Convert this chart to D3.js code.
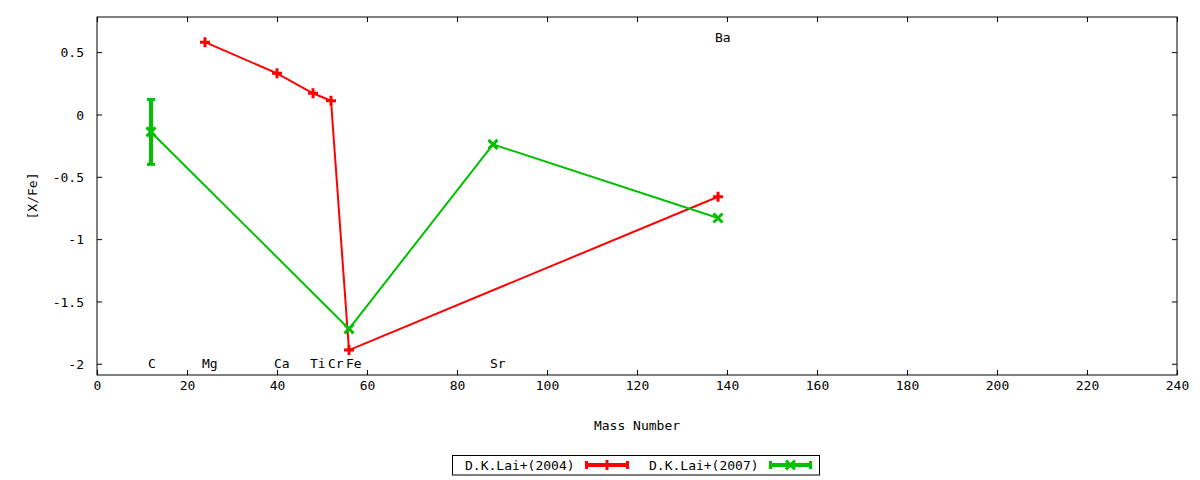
<!DOCTYPE html>
<html><head><meta charset="utf-8">
<script src="https://cdn.jsdelivr.net/npm/d3@7"></script>
<style>
body{margin:0;background:#fff;}
text{font-family:"DejaVu Sans Mono",monospace;font-size:13px;fill:#000;}
</style></head>
<body><svg id="c" width="1200" height="480"></svg>
<script>
// ---- data ----
const xTicks = [0,20,40,60,80,100,120,140,160,180,200,220,240];
const yTicks = [-2,-1.5,-1,-0.5,0,0.5];
const elementNames = ["C","Mg","Ca","Ti","Cr","Fe","Sr","Ba"];
const elementMass  = [12,24,40,48,52,56,88,138];
const elementLabelY = [-2,-2,-2,-2,-2,-2,-2,0.62];

const lai2004Mass = [24,40,48,52,56,138];
const lai2004Val  = [0.58,0.33,0.17,0.11,-1.89,-0.66];
const lai2004Err  = [0,0,0,0,0,0];

const lai2007Mass = [12,56,88,138];
const lai2007Val  = [-0.14,-1.72,-0.24,-0.83];
const lai2007Err  = [0.26,0,0,0];

const seriesNames = ["D.K.Lai+(2004)","D.K.Lai+(2007)"];
const seriesColors = ["#ff0000","#00c000"];

// ---- chart ----
const svg = d3.select("#c");
const L=97,R=1177,T=17,B=375;
const x = d3.scaleLinear().domain([0,240]).range([L,R]);
const y = d3.scaleLinear().domain([-2.09,0.782]).range([B,T]);

// axes (inward ticks, mirrored)
const gx = svg.append("g").attr("transform",`translate(0,${B})`)
  .call(d3.axisBottom(x).tickValues(xTicks).tickFormat(d3.format("d")).tickSizeInner(-5).tickSizeOuter(0).tickPadding(14));
const gxt = svg.append("g").attr("transform",`translate(0,${T})`)
  .call(d3.axisTop(x).tickValues(xTicks).tickFormat("").tickSizeInner(-5).tickSizeOuter(0));
const gy = svg.append("g").attr("transform",`translate(${L},0)`)
  .call(d3.axisLeft(y).tickValues(yTicks).tickFormat(d=>String(d)).tickSizeInner(-5).tickSizeOuter(0).tickPadding(13));
const gyr = svg.append("g").attr("transform",`translate(${R},0)`)
  .call(d3.axisRight(y).tickValues(yTicks).tickFormat("").tickSizeInner(-5).tickSizeOuter(0));
[gx,gxt,gy,gyr].forEach(g=>{
  g.select(".domain").remove();
  g.selectAll("line").attr("stroke","#000").attr("stroke-width",1);
  g.selectAll("text").attr("font-family","DejaVu Sans Mono").attr("font-size",13).attr("fill","#000");
});
gx.selectAll("text").attr("dy","0.1em");
gy.selectAll("text").attr("dy","0.35em");

svg.append("rect").attr("x",L).attr("y",T).attr("width",R-L).attr("height",B-T)
  .attr("fill","none").attr("stroke","#000").attr("stroke-width",1);

// axis titles
svg.append("text").attr("x",(L+R)/2).attr("y",430).attr("text-anchor","middle").text("Mass Number");
svg.append("text").attr("transform","translate(37,196) rotate(-90)").attr("text-anchor","middle").text("[X/Fe]");

// element labels
svg.append("g").selectAll("text").data(elementNames).join("text")
  .attr("x",(d,i)=>x(elementMass[i])-3)
  .attr("y",(d,i)=>y(elementLabelY[i]))
  .attr("dy","0.35em")
  .text(d=>d);

function plus(g,cx,cy,col){
  g.append("path").attr("d",`M${cx-5},${cy}H${cx+5}M${cx},${cy-5}V${cy+5}`)
   .attr("stroke",col).attr("stroke-width",3).attr("fill","none");
}
function cross(g,cx,cy,col){
  g.append("path").attr("d",`M${cx-4.5},${cy-4.5}L${cx+4.5},${cy+4.5}M${cx-4.5},${cy+4.5}L${cx+4.5},${cy-4.5}`)
   .attr("stroke",col).attr("stroke-width",3).attr("fill","none");
}

function drawSeries(mass,val,err,col,marker){
  const g = svg.append("g");
  const pts = mass.map((m,i)=>[m,val[i],err[i]]);
  g.append("path").datum(pts)
    .attr("d",d3.line().x(d=>x(d[0])).y(d=>y(d[1])))
    .attr("fill","none").attr("stroke",col).attr("stroke-width",2);
  pts.forEach(d=>{
    if(d[2]>0){
      const cx=x(d[0]);
      g.append("line").attr("x1",cx).attr("x2",cx).attr("y1",y(d[1]+d[2])).attr("y2",y(d[1]-d[2]))
        .attr("stroke",col).attr("stroke-width",4);
      [d[1]+d[2],d[1]-d[2]].forEach(v=>{
        g.append("line").attr("x1",cx-4).attr("x2",cx+4).attr("y1",y(v)).attr("y2",y(v))
          .attr("stroke",col).attr("stroke-width",3);
      });
    }
    marker(g,x(d[0]),y(d[1]),col);
  });
}
drawSeries(lai2004Mass,lai2004Val,lai2004Err,seriesColors[0],plus);
drawSeries(lai2007Mass,lai2007Val,lai2007Err,seriesColors[1],cross);

// legend
const lg = svg.append("g");
lg.append("rect").attr("x",452.5).attr("y",455.5).attr("width",367).attr("height",19.5)
  .attr("fill","none").attr("stroke","#000").attr("stroke-width",1);
const legX = [[465,585,629],[649,769,812]];
const markers=[plus,cross];
seriesNames.forEach((n,i)=>{
  const [tx,s0,s1]=legX[i], cy=465;
  lg.append("text").attr("x",tx).attr("y",cy).attr("dy","0.35em").text(n);
  lg.append("line").attr("x1",s0).attr("x2",s1).attr("y1",cy).attr("y2",cy)
    .attr("stroke",seriesColors[i]).attr("stroke-width",4);
  [s0+1.5,s1-1.5].forEach(sx=>lg.append("line").attr("x1",sx).attr("x2",sx).attr("y1",cy-4).attr("y2",cy+4)
    .attr("stroke",seriesColors[i]).attr("stroke-width",3));
  markers[i](lg,(s0+s1)/2,cy,seriesColors[i]);
});
</script></body></html>
